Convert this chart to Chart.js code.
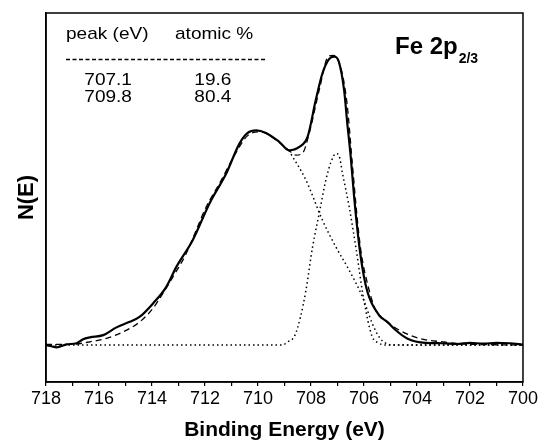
<!DOCTYPE html>
<html>
<head>
<meta charset="utf-8">
<script src="https://cdn.jsdelivr.net/npm/chart.js@4"></script>
<style>
  html, body { margin: 0; padding: 0; background: #fff; }
  #wrap { width: 540px; height: 443px; position: relative; }
</style>
</head>
<body>
<div id="wrap"><canvas id="chart"></canvas></div>
<script>
// measured Fe 2p spectrum (binding energy in eV, intensity in arbitrary units)
const measuredEnergy = [718, 717.8, 717.6, 717.22, 716.85, 716.6, 716.34, 715.84, 715.34, 714.84, 714.46, 713.96, 713.46, 713.08, 712.46, 711.83, 711.2, 710.7, 710.39, 710.07, 709.7, 709.2, 708.82, 708.44, 708.13, 707.82, 707.57, 707.32, 707.13, 706.95, 706.75, 706.63, 706.5, 706.37, 706.19, 706.0, 705.81, 705.43, 705.12, 704.81, 704.37, 703.68, 703.05, 702.5, 702.0, 701.5, 701.0, 700.5, 700];
const measuredCounts = [10.0, 9.7, 9.4, 10.2, 10.5, 11.6, 12.1, 12.7, 14.8, 16.3, 17.7, 21.3, 25.8, 31.2, 38.5, 48.4, 56.5, 64.6, 67.5, 68.2, 67.5, 65.1, 62.8, 63.7, 66.4, 76.4, 83.6, 87.5, 88.2, 86.8, 79.1, 70.1, 61.0, 50.0, 37.6, 28.5, 23.1, 18.1, 16.3, 14.1, 11.8, 10.6, 10.5, 10.3, 10.6, 10.4, 10.6, 10.5, 10.1];

// fitted envelope
const fitEnergy = [718, 717.2, 716.85, 716.34, 715.72, 715.09, 714.46, 713.96, 713.59, 713.21, 712.73, 711.95, 711.4, 710.92, 710.4, 709.88, 709.36, 708.84, 708.57, 708.32, 708.07, 707.69, 707.34, 707.16, 706.9, 706.64, 706.45, 706.25, 706.12, 705.87, 705.56, 705.06, 704.43, 703.8, 703.05, 702.2, 701, 700];
const fitCounts = [10.2, 10.2, 10.3, 10.9, 11.8, 13.6, 16.3, 20.0, 24.0, 28.5, 34.5, 47.5, 54.5, 61.0, 66.7, 67.8, 65.8, 62.8, 61.5, 62.0, 67.3, 79.1, 88.3, 88.5, 85.8, 75.5, 60.0, 44.0, 35.7, 26.7, 19.5, 15.9, 13.2, 11.6, 10.9, 10.3, 10.1, 10.0];

// component at 707.1 eV
const peak1Energy = [718, 709.1, 708.85, 708.63, 708.4, 708.19, 707.94, 707.69, 707.44, 707.25, 707.06, 706.95, 706.81, 706.56, 706.31, 706.0, 705.7, 705.43, 705.1, 700];
const peak1Counts = [10, 10, 11.0, 12.3, 17.5, 24.9, 36.6, 45.7, 54.7, 59.5, 61.9, 61.5, 56.5, 47.5, 36.6, 22.0, 12.5, 10.5, 10, 10];

// component at 709.8 eV (visible part, right of the dip)
const peak2Energy = [708.84, 708.19, 707.57, 707.06, 706.56, 706.06, 705.69, 705.43, 705.2, 704.9, 700];
const peak2Counts = [62.8, 54.7, 43.9, 36.6, 30.3, 23.1, 15.9, 12.2, 10.6, 10.0, 10.0];

// inset table
const tableHeaders = ['peak (eV)', 'atomic %'];
const peakPositions = ['707.1', '709.8'];
const atomicPercent = ['19.6', '80.4'];

const FONT = '"Liberation Sans", Arial, Helvetica, sans-serif';
Chart.defaults.font.family = FONT;
Chart.defaults.color = '#000';

const toPoints = (xs, ys) => xs.map((x, i) => ({ x: x, y: ys[i] }));

// text drawn slightly stretched sideways, like the original figure
function stretchText(ctx, text, x, y, sx) {
  ctx.save();
  ctx.translate(x, y);
  ctx.scale(sx, 1);
  ctx.fillText(text, 0, 0);
  ctx.restore();
}

const frameAndLabels = {
  id: 'frameAndLabels',
  afterDraw(chart) {
    const { ctx, chartArea: a } = chart;
    ctx.save();
    ctx.strokeStyle = '#000';
    ctx.lineWidth = 1.5;
    ctx.strokeRect(a.left, a.top, a.right - a.left, a.bottom - a.top);

    ctx.fillStyle = '#000';
    ctx.textBaseline = 'alphabetic';
    ctx.textAlign = 'left';
    ctx.font = '17px ' + FONT;
    stretchText(ctx, tableHeaders[0], a.left + 20, a.top + 25.5, 1.12);
    stretchText(ctx, tableHeaders[1], a.left + 129, a.top + 25.5, 1.12);

    ctx.setLineDash([4, 2.5]);
    ctx.lineWidth = 1.5;
    ctx.beginPath();
    ctx.moveTo(a.left + 20, a.top + 46.5);
    ctx.lineTo(a.left + 221, a.top + 46.5);
    ctx.stroke();
    ctx.setLineDash([]);

    for (let i = 0; i < peakPositions.length; i++) {
      const yy = a.top + 72.3 + i * 16.7;
      stretchText(ctx, peakPositions[i], a.left + 38.3, yy, 1.12);
      stretchText(ctx, atomicPercent[i], a.left + 148.3, yy, 1.12);
    }

    ctx.font = 'bold 24px ' + FONT;
    const fx = a.left + 349, fy = a.top + 40.5;
    ctx.fillText('Fe 2p', fx, fy);
    const w = ctx.measureText('Fe 2p').width;
    ctx.font = 'bold 14px ' + FONT;
    ctx.fillText('2/3', fx + w + 1, fy + 9);
    ctx.restore();
  }
};

new Chart(document.getElementById('chart'), {
  type: 'line',
  data: {
    datasets: [
      {
        label: 'measured',
        data: toPoints(measuredEnergy, measuredCounts),
        borderColor: '#000',
        borderWidth: 2.2,
        pointRadius: 0,
        cubicInterpolationMode: 'monotone',
        fill: false,
      },
      {
        label: 'fit',
        data: toPoints(fitEnergy, fitCounts),
        borderColor: '#000',
        borderWidth: 1.3,
        borderDash: [6, 4],
        pointRadius: 0,
        cubicInterpolationMode: 'monotone',
        fill: false,
      },
      {
        label: '707.1',
        data: toPoints(peak1Energy, peak1Counts),
        borderColor: '#000',
        borderWidth: 1.5,
        borderDash: [1.5, 3],
        pointRadius: 0,
        cubicInterpolationMode: 'monotone',
        fill: false,
      },
      {
        label: '709.8',
        data: toPoints(peak2Energy, peak2Counts),
        borderColor: '#000',
        borderWidth: 1.5,
        borderDash: [1.5, 3],
        pointRadius: 0,
        cubicInterpolationMode: 'monotone',
        fill: false,
      },
    ],
  },
  options: {
    responsive: true,
    maintainAspectRatio: false,
    animation: false,
    layout: { padding: { left: 10, right: 15, top: 13, bottom: 0 } },
    plugins: { legend: { display: false }, tooltip: { enabled: false } },
    scales: {
      x: {
        type: 'linear',
        min: 700,
        max: 718,
        reverse: true,
        ticks: {
          stepSize: 1,
          autoSkip: false,
          maxRotation: 0,
          padding: 2,
          color: '#000',
          font: { size: 18 },
          callback: (v) => (v % 2 === 0 ? String(v) : ''),
        },
        grid: { drawOnChartArea: false, drawTicks: true, tickLength: 4, color: '#000', lineWidth: 1.2 },
        border: { color: '#000', width: 1.5 },
        title: {
          display: true,
          text: 'Binding Energy (eV)',
          color: '#000',
          font: { size: 21, weight: 'bold' },
          padding: { top: 0, bottom: 0 },
        },
        afterFit(s) { s.height = 61; },
      },
      y: {
        min: 0,
        max: 100,
        ticks: { display: false },
        grid: { display: false },
        border: { color: '#000', width: 1.5 },
        title: {
          display: true,
          text: 'N(E)',
          color: '#000',
          font: { size: 22, weight: 'bold' },
          padding: { top: 4, bottom: 0 },
        },
        afterFit(s) { s.width = 36; },
      },
    },
  },
  plugins: [frameAndLabels],
});
</script>
</body>
</html>
